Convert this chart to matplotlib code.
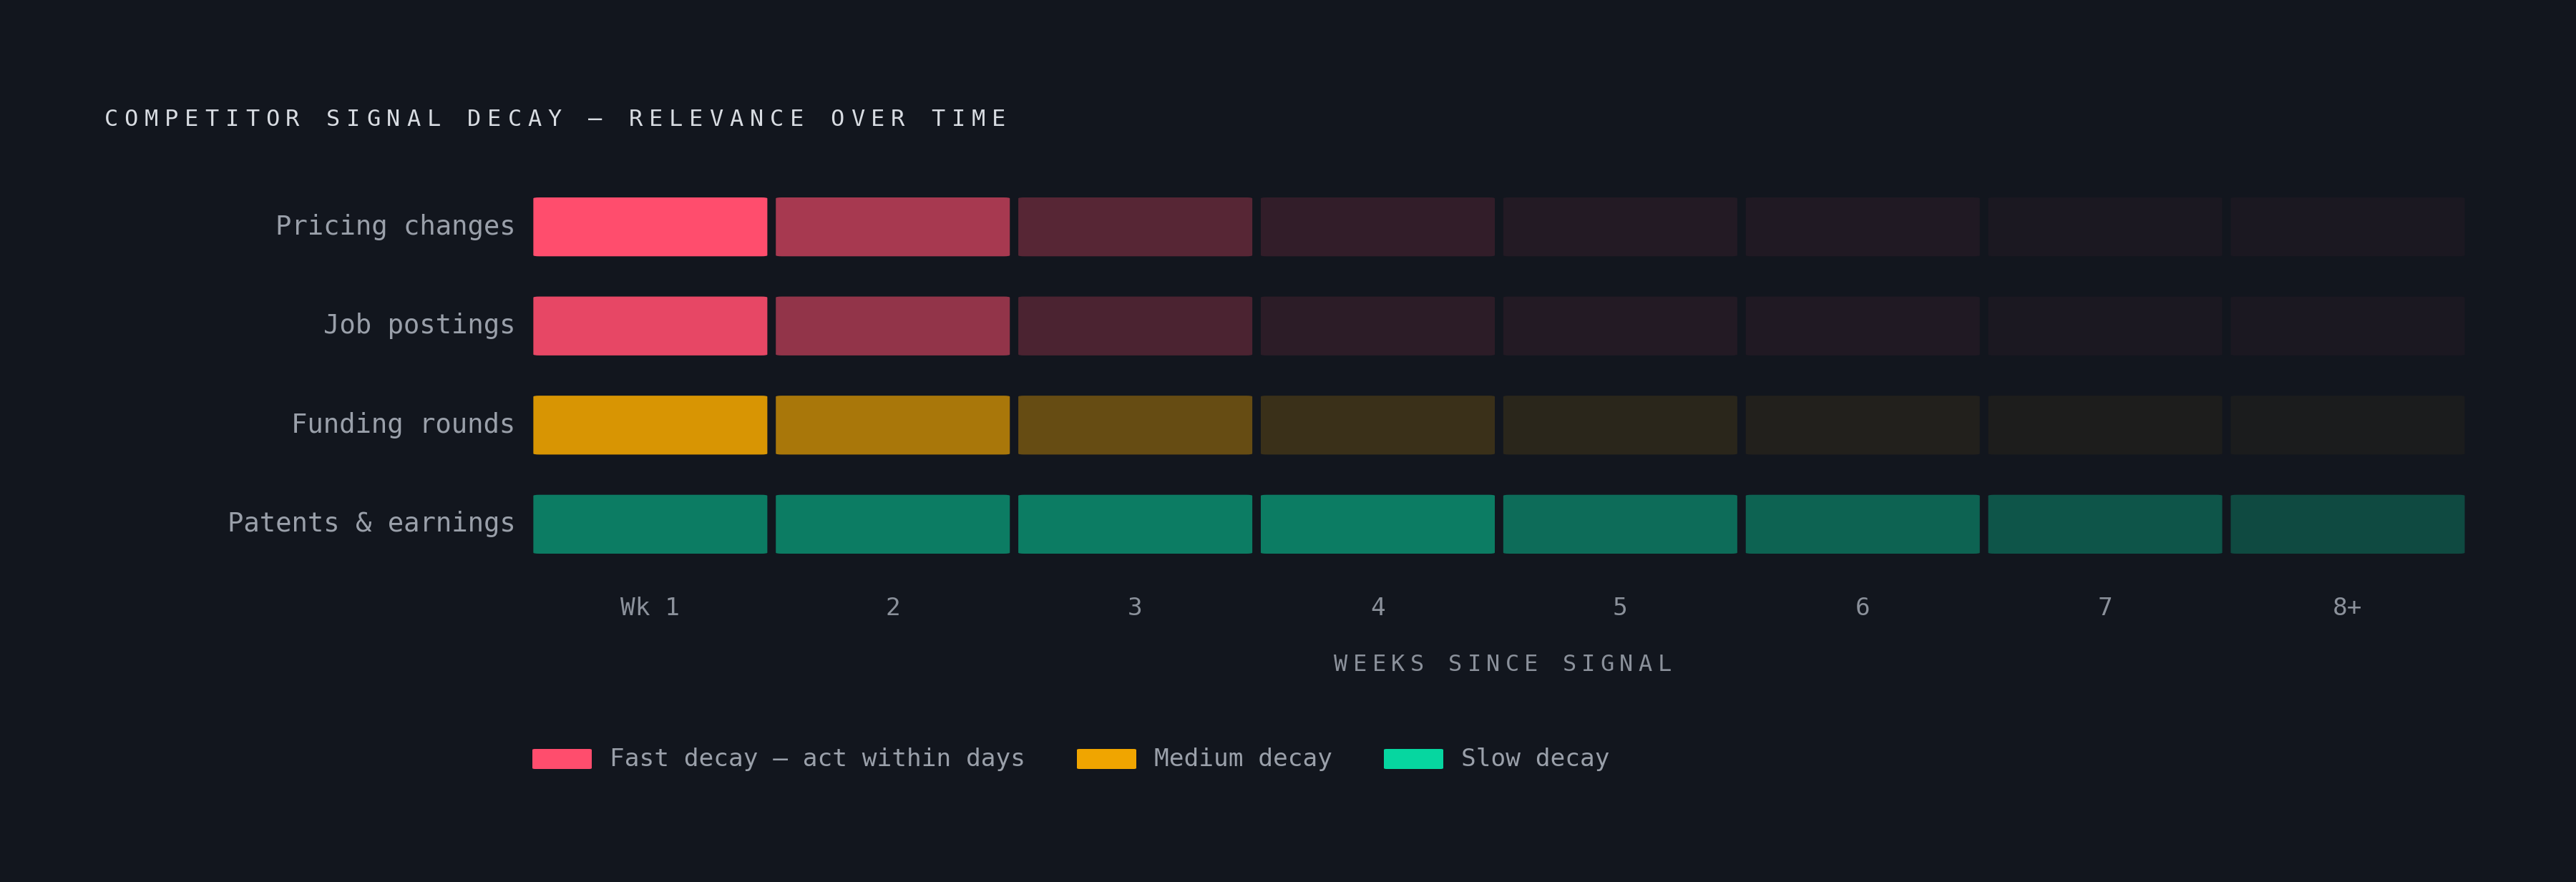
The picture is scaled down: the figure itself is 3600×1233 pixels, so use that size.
import matplotlib
matplotlib.use("Agg")
import matplotlib.pyplot as plt
from matplotlib.patches import FancyBboxPatch, Rectangle
from matplotlib.colors import to_rgb

signals = ["Pricing changes", "Job postings", "Funding rounds", "Patents & earnings"]
weeks = ["Wk 1", "2", "3", "4", "5", "6", "7", "8+"]
decay_type = ["fast", "fast", "medium", "slow"]
relevance = [
    [1.00, 0.63, 0.29, 0.135, 0.07, 0.06, 0.04, 0.04],
    [0.90, 0.54, 0.24, 0.11, 0.07, 0.06, 0.04, 0.04],
    [0.89, 0.68, 0.38, 0.18, 0.11, 0.07, 0.05, 0.04],
    [0.53, 0.53, 0.53, 0.53, 0.45, 0.40, 0.33, 0.27],
]
legend_labels = {"fast": "Fast decay — act within days", "medium": "Medium decay", "slow": "Slow decay"}
title = "COMPETITOR SIGNAL DECAY — RELEVANCE OVER TIME"
xlabel = "WEEKS SINCE SIGNAL"

BG = "#12161e"
COLORS = {"fast": "#ff4d6d", "medium": "#f0a500", "slow": "#06d6a0"}
W, H = 3600, 1233
MONO = "DejaVu Sans Mono"


def blend(c, a):
    c, b = to_rgb(c), to_rgb(BG)
    return tuple(a * ci + (1 - a) * bi for ci, bi in zip(c, b))


def px(x, y):
    return x / W, 1 - y / H


fig = plt.figure(figsize=(18, H / 200), dpi=200, facecolor=BG)
ax = fig.add_axes([744 / W, 1 - 774 / H, (3455 - 744) / W, (774 - 276) / H])
ax.set_facecolor(BG)
ax.set_xlim(0, len(weeks))
ax.set_ylim(len(signals) - 0.5 + 0.203, -0.5 - 0.203 + 0.0)
ax.set_ylim(3.297, -0.297)
ax.axis("off")

gap = 0.027
h = 0.594
for i, row in enumerate(relevance):
    for j, v in enumerate(row):
        ax.add_patch(FancyBboxPatch((j + 0.004, i - h / 2), 1 - gap - 0.008, h,
                                    boxstyle="round,pad=0,rounding_size=0.025",
                                    mutation_aspect=0.41,
                                    fc=blend(COLORS[decay_type[i]], v), ec="none"))
    ax.text(-0.07, i, signals[i], ha="right", va="center", color="#9aa0aa",
            fontsize=13.4, family=MONO)

for j, w in enumerate(weeks):
    ax.text(j + (1 - gap) / 2, 3.297 + 0.55, w, ha="center", va="center",
            color="#8b919b", fontsize=12.4, family=MONO)


def spaced(text, x0, y, adv, size, color, center=False):
    if center:
        x0 = x0 - adv * (len(text) - 1) / 2
    for k, ch in enumerate(text):
        fig.text(*px(x0 + k * adv, y), ch, ha="center", va="center",
                 color=color, fontsize=size, family=MONO)


spaced(title, 145 + 10, 168, 28.2, 11.5, "#d8dce2")
spaced(xlabel, 2100, 930, 26.6, 11.5, "#8b919b", center=True)

# legend
fig.canvas.draw()
r = fig.canvas.get_renderer()
x = 744
for key in ["fast", "medium", "slow"]:
    fig.patches.append(FancyBboxPatch(px(x, 1061 + 14), 83 / W, 28 / H,
                                      boxstyle="round,pad=0,rounding_size=0.001",
                                      transform=fig.transFigure, fc=COLORS[key], ec="none"))
    t = fig.text(*px(x + 108, 1061), legend_labels[key], ha="left", va="center",
                 color="#9aa0aa", fontsize=12.4, family=MONO)
    bb = t.get_window_extent(r)
    x = x + 108 + bb.width * W / fig.bbox.width + 72

fig.savefig("out.png", facecolor=BG)
